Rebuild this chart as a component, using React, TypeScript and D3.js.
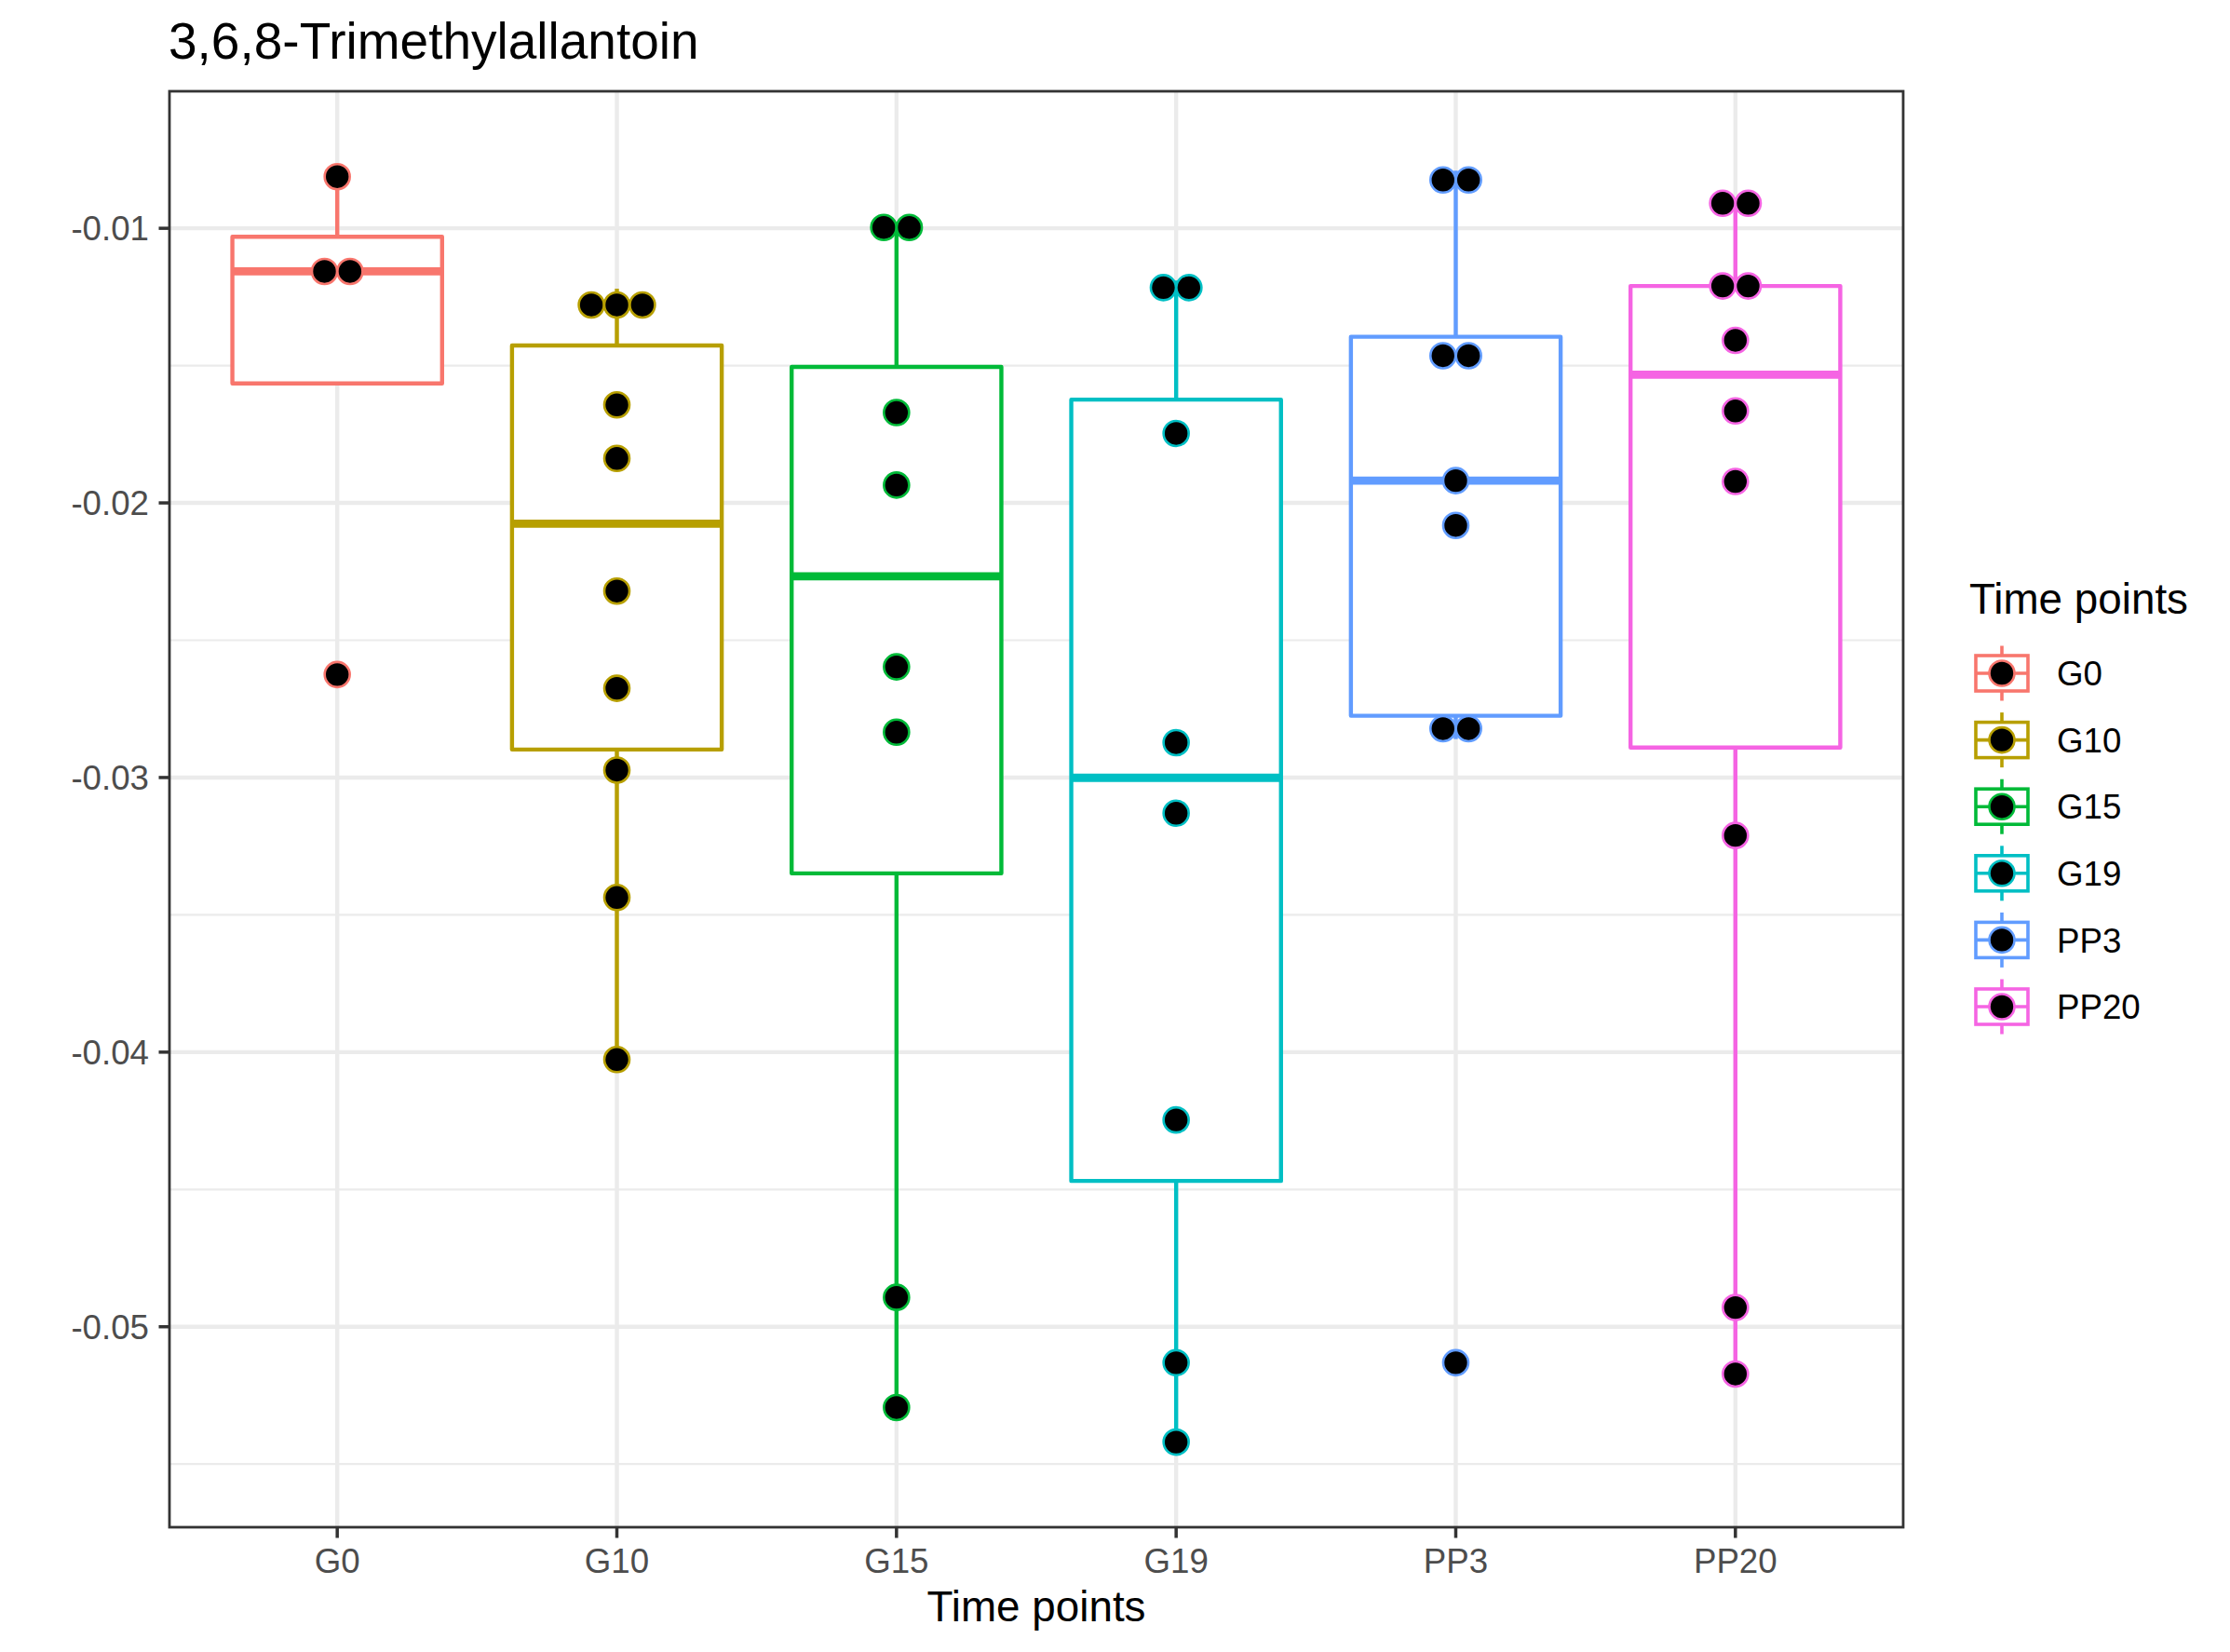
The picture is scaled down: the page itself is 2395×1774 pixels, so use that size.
import React, { useEffect } from "react";
import * as d3 from "d3";

const categories = ["G0", "G10", "G15", "G19", "PP3", "PP20"];
const colors = ["#F8766D", "#B79F00", "#00BA38", "#00BFC4", "#619CFF", "#F564E3"];

// box statistics
const whiskerLow = [-0.01565, -0.0403, -0.05294, -0.0542, -0.0286, -0.05172];
const q1 = [-0.01565, -0.02898, -0.03349, -0.04469, -0.02775, -0.02891];
const median = [-0.01157, -0.02076, -0.02267, -0.03001, -0.01919, -0.01533];
const q3 = [-0.01031, -0.01427, -0.01505, -0.01624, -0.01395, -0.0121];
const whiskerHigh = [-0.00812, -0.0122, -0.00997, -0.0119, -0.0079, -0.00909];

// dot values (binned, as drawn)
const dotsG0 = [-0.00812, -0.01157, -0.01157, -0.02625];
const dotsG10 = [-0.01279, -0.01279, -0.01279, -0.01643, -0.01838, -0.02321, -0.02675, -0.02973, -0.03437, -0.04027];
const dotsG15 = [-0.00997, -0.00997, -0.01671, -0.01935, -0.02597, -0.02835, -0.04893, -0.05294];
const dotsG19 = [-0.01216, -0.01216, -0.01747, -0.02873, -0.0313, -0.04247, -0.05131, -0.0542];
const dotsPP3 = [-0.00824, -0.00824, -0.01464, -0.01464, -0.01919, -0.02082, -0.02822, -0.02822, -0.05131];
const dotsPP20 = [-0.00909, -0.00909, -0.0121, -0.0121, -0.01408, -0.01665, -0.01922, -0.03211, -0.0493, -0.05172];
const dots = [dotsG0, dotsG10, dotsG15, dotsG19, dotsPP3, dotsPP20];

const yDomain = [-0.0573, -0.00501];
const yMajor = [-0.05, -0.04, -0.03, -0.02, -0.01];
const yMinor = [-0.055, -0.045, -0.035, -0.025, -0.015];
const yLabels = ["-0.05", "-0.04", "-0.03", "-0.02", "-0.01"];

const W = 2395, H = 1774;
const P = { left: 182, right: 2044, top: 98, bottom: 1640 };
const FONT = "'Liberation Sans', Arial, Helvetica, sans-serif";

export default function App() {
  useEffect(() => {
    document.body.style.margin = "0";
  }, []);

  const y = d3.scaleLinear().domain(yDomain).range([P.bottom, P.top]);
  const x = d3.scalePoint<string>().domain(categories).range([P.left, P.right]).padding(0.6);
  const step = x.step();
  const boxW = step * 0.75;
  const lw = 4.4;
  const dotR = 13.5;
  const dotSpacing = 27.4;

  const grid = "#EBEBEB";

  return (
    <svg width={W} height={H} style={{ position: "absolute", left: 0, top: 0, background: "#fff" }} fontFamily={FONT}>
      <rect x={0} y={0} width={W} height={H} fill="#fff" />
      {/* grid */}
      {yMinor.map((v, i) => (
        <line key={"mn" + i} x1={P.left} x2={P.right} y1={y(v)} y2={y(v)} stroke={grid} strokeWidth={2.2} />
      ))}
      {yMajor.map((v, i) => (
        <line key={"mj" + i} x1={P.left} x2={P.right} y1={y(v)} y2={y(v)} stroke={grid} strokeWidth={4.4} />
      ))}
      {categories.map((c) => (
        <line key={"vx" + c} x1={x(c)} x2={x(c)} y1={P.top} y2={P.bottom} stroke={grid} strokeWidth={4.4} />
      ))}
      {/* boxplots */}
      {categories.map((c, i) => {
        const cx = x(c)!;
        const col = colors[i];
        return (
          <g key={"box" + c}>
            <line x1={cx} x2={cx} y1={y(q3[i])} y2={y(whiskerHigh[i])} stroke={col} strokeWidth={lw} />
            <line x1={cx} x2={cx} y1={y(q1[i])} y2={y(whiskerLow[i])} stroke={col} strokeWidth={lw} />
            <rect x={cx - boxW / 2} y={y(q3[i])} width={boxW} height={y(q1[i]) - y(q3[i])} fill="#fff" stroke={col} strokeWidth={lw} strokeLinejoin="round" />
            <line x1={cx - boxW / 2} x2={cx + boxW / 2} y1={y(median[i])} y2={y(median[i])} stroke={col} strokeWidth={lw * 2} />
          </g>
        );
      })}
      {/* dots */}
      {categories.map((c, i) => {
        const cx = x(c)!;
        const groups = d3.groups(dots[i], (d) => d);
        return (
          <g key={"dots" + c}>
            {groups.flatMap(([v, arr]) =>
              arr.map((_, k) => (
                <circle
                  key={v + "_" + k}
                  cx={cx + (k - (arr.length - 1) / 2) * dotSpacing}
                  cy={y(v)}
                  r={dotR}
                  fill="#000"
                  stroke={colors[i]}
                  strokeWidth={2.6}
                />
              ))
            )}
          </g>
        );
      })}
      {/* panel border */}
      <rect x={P.left} y={P.top} width={P.right - P.left} height={P.bottom - P.top} fill="none" stroke="#333333" strokeWidth={2.8} />
      {/* y axis */}
      {yMajor.map((v, i) => (
        <g key={"yt" + i}>
          <line x1={P.left - 11.5} x2={P.left} y1={y(v)} y2={y(v)} stroke="#333333" strokeWidth={3.5} />
          <text x={P.left - 22} y={y(v)} dy="0.35em" textAnchor="end" fontSize={36.7} fill="#4D4D4D">
            {yLabels[i]}
          </text>
        </g>
      ))}
      {/* x axis */}
      {categories.map((c) => (
        <g key={"xt" + c}>
          <line x1={x(c)} x2={x(c)} y1={P.bottom} y2={P.bottom + 11.5} stroke="#333333" strokeWidth={3.5} />
          <text x={x(c)} y={1689} textAnchor="middle" fontSize={36.7} fill="#4D4D4D">
            {c}
          </text>
        </g>
      ))}
      <text x={(P.left + P.right) / 2} y={1741} textAnchor="middle" fontSize={45.8} fill="#000">
        Time points
      </text>
      {/* title */}
      <text x={181} y={63} fontSize={55} fill="#000">
        3,6,8-Trimethylallantoin
      </text>
      {/* legend */}
      <text x={2115} y={659} fontSize={45.8} fill="#000">
        Time points
      </text>
      {categories.map((c, i) => {
        const cy = 723 + i * 71.6;
        const kx = 2150;
        const col = colors[i];
        return (
          <g key={"lg" + c}>
            <line x1={kx} x2={kx} y1={cy - 29.5} y2={cy - 19} stroke={col} strokeWidth={3.6} />
            <line x1={kx} x2={kx} y1={cy + 19} y2={cy + 29.5} stroke={col} strokeWidth={3.6} />
            <rect x={kx - 28} y={cy - 19} width={56} height={38} fill="#fff" stroke={col} strokeWidth={3.6} />
            <line x1={kx - 28} x2={kx + 28} y1={cy} y2={cy} stroke={col} strokeWidth={3.6} />
            <circle cx={kx} cy={cy} r={dotR} fill="#000" stroke={col} strokeWidth={2.6} />
            <text x={2209} y={cy} dy="0.36em" fontSize={36.7} fill="#000">
              {c}
            </text>
          </g>
        );
      })}
    </svg>
  );
}
